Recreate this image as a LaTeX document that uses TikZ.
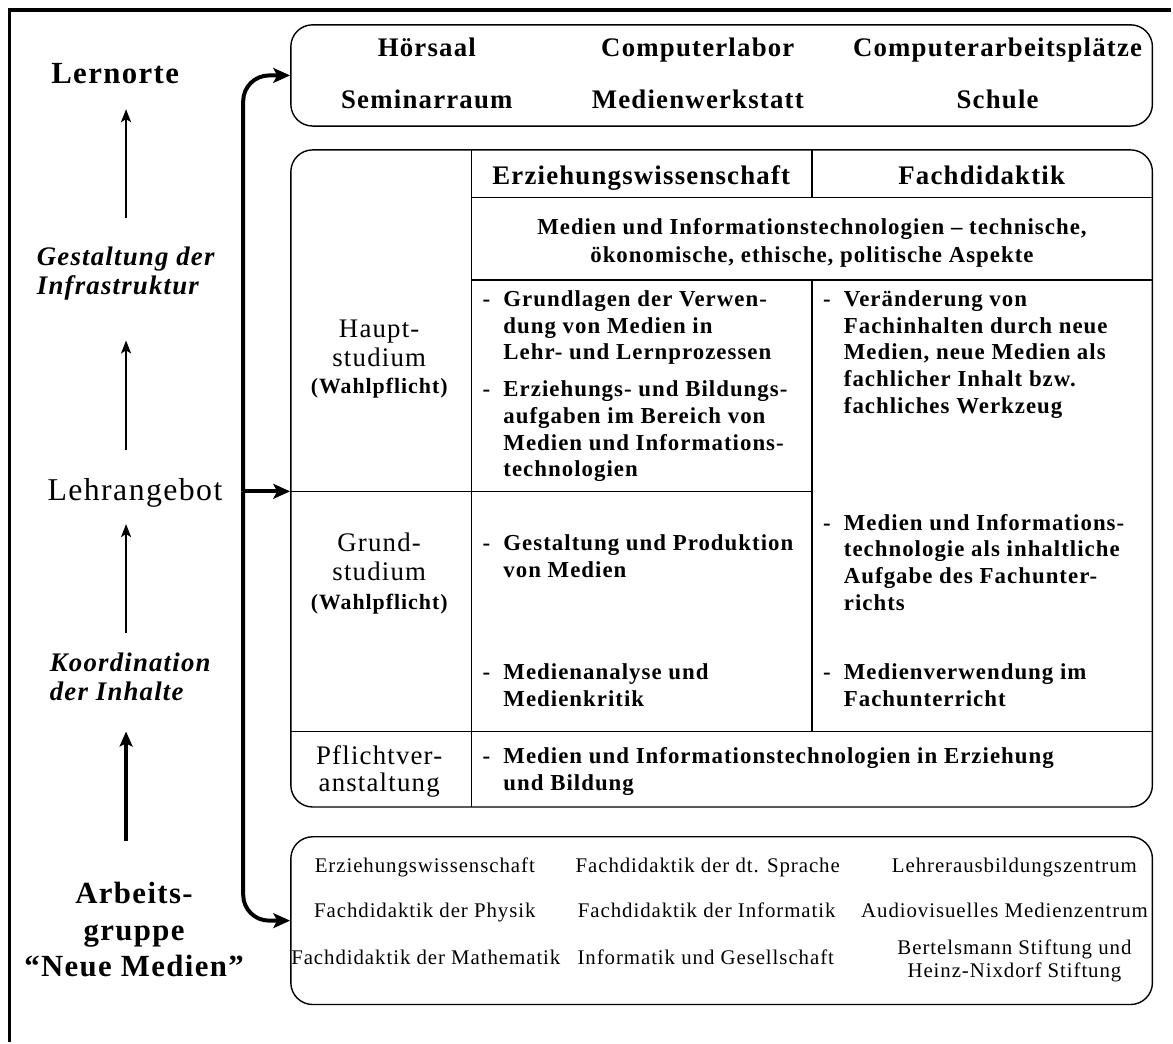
\documentclass[tikz,border=0pt]{standalone}
\usepackage{fontspec}
\setmainfont{Liberation Serif}[LetterSpace=4.5]
\usetikzlibrary{arrows.meta}

% multi-line helpers: first baseline is the node's base
\newcommand\Lft[1]{\begin{tabular}[t]{@{}l@{}}#1\end{tabular}}
\newcommand\Ctr[1]{\begin{tabular}[t]{@{}c@{}}#1\end{tabular}}
\newcommand\Itm[1]{\begin{tabular}[t]{@{}l@{}l@{}}\makebox[21pt][l]{-}&#1\end{tabular}}

\begin{document}
\begin{tikzpicture}[x=1pt,y=-1pt,
  frame/.style={line width=3.5pt},
  box/.style={draw, line width=1.4pt, rounded corners=22pt, minimum width=868pt, inner sep=0pt},
  grid/.style={line width=1.5pt},
  conn/.style={line width=4pt, rounded corners=26pt, -{Stealth[length=17pt,width=15pt,inset=4pt]}},
  uparrow/.style={line width=2.2pt, -{Stealth[length=13pt,width=10pt,inset=3pt]}},
  bigup/.style={line width=4pt, -{Stealth[length=15pt,width=13pt,inset=3pt]}},
  txt/.style={inner sep=0pt, anchor=base},
  body/.style={txt, anchor=base west, font={\bfseries\fontsize{23}{27}\selectfont}},
  row/.style={txt, font={\bfseries\fontsize{23}{28}\selectfont}},
  head/.style={txt, font={\bfseries\fontsize{27}{30}\selectfont}},
  place/.style={txt, font={\bfseries\fontsize{27}{30}\selectfont}},
  phase/.style={txt, font={\fontsize{27}{29}\selectfont}},
  choice/.style={txt, font={\bfseries\fontsize{22}{26}\selectfont}},
  group/.style={txt, font={\fontsize{21}{23}\selectfont}},
  title/.style={txt, font={\bfseries\fontsize{31}{37}\selectfont}},
  task/.style={txt, anchor=base west, font={\bfseries\itshape\fontsize{27}{30}\selectfont}},
  offer/.style={txt, font={\fontsize{32}{36}\selectfont}}
]
% page
\fill[white] (0,0) rectangle (1173,1041);
\draw[frame] (1180,10) -- (9.5,10) -- (9.5,1050);

% boxes
\node[box, minimum height=102pt] (topbox) at (727,76) {};
\node[box, minimum height=662pt] (table) at (727,482) {};
\node[box, minimum height=169pt] (botbox) at (727,927.5) {};

% table rules
\draw[grid] (475,151) -- (475,813);
\draw[grid] (818,151) -- (818,199);
\draw[grid] (818,282) -- (818,737);
\draw[grid] (475,199) -- (1161,199);
\draw[grid] (475,282) -- (1161,282);
\draw[grid] (293,495) -- (818,495);
\draw[grid] (293,737) -- (1161,737);

% learning places
\node[place] (hoer) at (430,57) {Hörsaal};
\node[place] (clab) at (703,57) {Computerlabor};
\node[place] (cap) at (1005,57) {Computerarbeitsplätze};
\node[place] (sem) at (430,109) {Seminarraum};
\node[place] (mw) at (703,109) {Medienwerkstatt};
\node[place] (schule) at (1005,109) {Schule};

% table header
\node[head] (hErz) at (646,186) {Erziehungswissenschaft};
\node[head] (hFach) at (989,186) {Fachdidaktik};
\node[row] (common) at (818,236) {\Ctr{Medien und Informationstechnologien – technische,\\ökonomische, ethische, politische Aspekte}};

% row labels
\node[phase] (haupt) at (382,340) {\Ctr{Haupt-\\studium}};
\node[choice] (wp1) at (382,396) {(Wahlpflicht)};
\node[phase] (grund) at (382,556) {\Ctr{Grund-\\studium}};
\node[choice] (wp2) at (382,614) {(Wahlpflicht)};
\node[phase, font={\fontsize{27}{27}\selectfont}] (pflicht) at (382,770) {\Ctr{Pflichtver-\\anstaltung}};

% Erziehungswissenschaft column
\node[body] (e1) at (486,308.5) {\Itm{Grundlagen der Verwen-\\&dung von Medien in\\&Lehr- und Lernprozessen}};
\node[body] (e2) at (486,399.5) {\Itm{Erziehungs- und Bildungs-\\&aufgaben im Bereich von\\&Medien und Informations-\\&technologien}};
\node[body] (e3) at (486,554.5) {\Itm{Gestaltung und Produktion\\&von Medien}};
\node[body] (e4) at (486,684.5) {\Itm{Medienanalyse und\\&Medienkritik}};

% Fachdidaktik column
\node[body] (f1) at (829,308.5) {\Itm{Veränderung von\\&Fachinhalten durch neue\\&Medien, neue Medien als\\&fachlicher Inhalt bzw.\\&fachliches Werkzeug}};
\node[body] (f2) at (829,534) {\Itm{Medien und Informations-\\&technologie als inhaltliche\\&Aufgabe des Fachunter-\\&richts}};
\node[body] (f3) at (829,684.5) {\Itm{Medienverwendung im\\&Fachunterricht}};

% compulsory course
\node[body] (p1) at (486,769.5) {\Itm{Medien und Informationstechnologien in Erziehung\\&und Bildung}};

% partners
\node[group] (g1) at (428,879) {Erziehungswissenschaft};
\node[group] (g2) at (713,879) {Fachdidaktik der dt. Sprache};
\node[group] (g3) at (1022,879) {Lehrerausbildungszentrum};
\node[group] (g4) at (428,924) {Fachdidaktik der Physik};
\node[group] (g5) at (712,924) {Fachdidaktik der Informatik};
\node[group] (g6) at (1012,924) {Audiovisuelles Medienzentrum};
\node[group] (g7) at (429,972) {Fachdidaktik der Mathematik};
\node[group] (g8) at (711,972) {Informatik und Gesellschaft};
\node[group] (g9) at (1022,962) {\Ctr{Bertelsmann Stiftung und\\Heinz-Nixdorf Stiftung}};

% left column
\node[txt, font={\bfseries\fontsize{31}{36}\selectfont}] (lern) at (116,84) {Lernorte};
\node[task] (gest) at (37,267) {\Lft{Gestaltung der\\Infrastruktur}};
\node[offer] (lehr) at (136,504) {Lehrangebot};
\node[task] (koord) at (50,676) {\Lft{Koordination\\der Inhalte}};
\node[title] (ag) at (135,910) {\Ctr{Arbeits-\\gruppe\\“Neue Medien”}};

\coordinate (a1s) at (127,220); \coordinate (a1e) at (127,110);
\coordinate (a2s) at (127,453); \coordinate (a2e) at (127,343);
\coordinate (a3s) at (127,638); \coordinate (a3e) at (127,528);
\coordinate (a4s) at (127,847); \coordinate (a4e) at (127,737);
\draw[uparrow] (a1s) -- (a1e);
\draw[uparrow] (a2s) -- (a2e);
\draw[uparrow] (a3s) -- (a3e);
\draw[bigup] (a4s) -- (a4e);

% distribution connector
\coordinate (jn) at (245,495);
\draw[conn] (jn) |- (topbox.west);
\draw[conn] (jn) |- (botbox.west);
\draw[conn] (jn) -- (jn -| table.west);
\end{tikzpicture}
\end{document}
